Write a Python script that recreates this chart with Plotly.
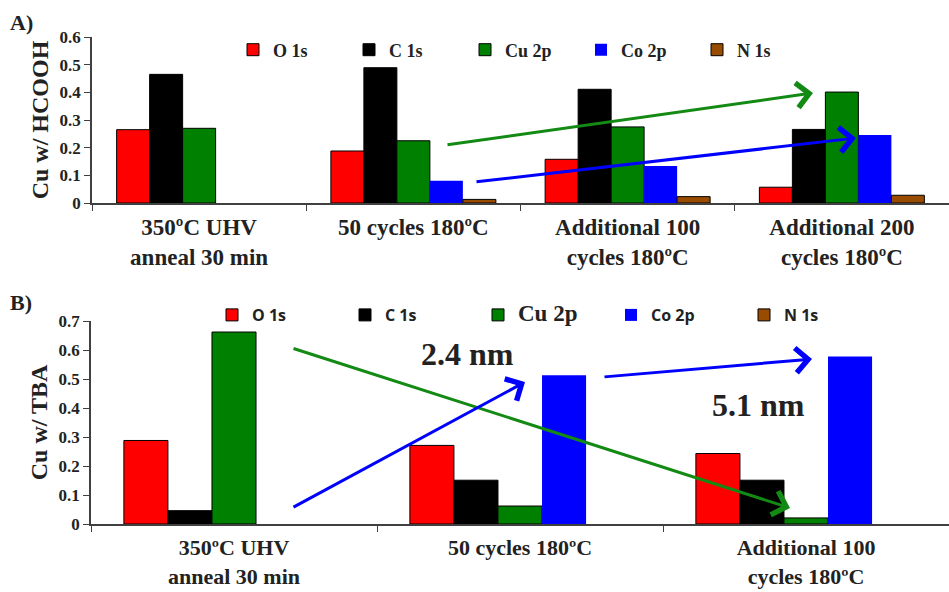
import plotly.graph_objects as go

# ---------------- data ----------------
series = ["O 1s", "C 1s", "Cu 2p", "Co 2p", "N 1s"]
colors = ["#FF0000", "#000000", "#008000", "#0000FF", "#994C00"]

cats_a = ["350ºC UHV<br>anneal 30 min", "50 cycles 180ºC",
          "Additional 100<br>cycles 180ºC", "Additional 200<br>cycles 180ºC"]
o1s_a = [0.265, 0.188, 0.158, 0.057]
c1s_a = [0.465, 0.489, 0.411, 0.266]
cu2p_a = [0.270, 0.225, 0.275, 0.401]
co2p_a = [None, 0.080, 0.134, 0.246]
n1s_a = [None, 0.013, 0.023, 0.028]

cats_b = ["350ºC UHV<br>anneal 30 min", "50 cycles 180ºC",
          "Additional 100<br>cycles 180ºC"]
o1s_b = [0.288, 0.271, 0.243]
c1s_b = [0.046, 0.151, 0.151]
cu2p_b = [0.662, 0.062, 0.021]
co2p_b = [None, 0.513, 0.578]
n1s_b = [None, None, None]

yticks_a = [0, 0.1, 0.2, 0.3, 0.4, 0.5, 0.6]
yticks_b = [0, 0.1, 0.2, 0.3, 0.4, 0.5, 0.6, 0.7]

SERIF = "Liberation Serif"
SANS = "Open Sans"
TXT = "#222222"

names_b = [
    f"<span style='font-family:{SANS}'><b>O 1s</b></span>",
    f"<span style='font-family:{SANS}'><b>C 1s</b></span>",
    f"<span style='font-family:{SERIF};font-size:23px'><b>Cu 2p</b></span>",
    f"<span style='font-family:{SANS}'><b>Co 2p</b></span>",
    f"<span style='font-family:{SANS}'><b>N 1s</b></span>",
]

fig = go.Figure()
vals_a = [o1s_a, c1s_a, cu2p_a, co2p_a, n1s_a]
vals_b = [o1s_b, c1s_b, cu2p_b, co2p_b, n1s_b]
for i, s in enumerate(series):
    lw = 0 if s == "Co 2p" else 1
    fig.add_trace(go.Bar(x=cats_a, y=vals_a[i], name=f"<b>{s}</b>",
                         marker=dict(color=colors[i], line=dict(color="#000000", width=lw)),
                         xaxis="x", yaxis="y", legend="legend", offsetgroup=str(i)))
for i, s in enumerate(series):
    lw = 0 if s == "Co 2p" else 1
    fig.add_trace(go.Bar(x=cats_b, y=vals_b[i], name=names_b[i],
                         marker=dict(color=colors[i], line=dict(color="#000000", width=lw)),
                         xaxis="x2", yaxis="y2", legend="legend2", offsetgroup=str(i)))

W, H = 949, 592
def px(x):
    return x / W
def py(y):
    return 1 - y / H

axis_common = dict(showline=True, linecolor="#404040", linewidth=1.5,
                   ticks="outside", tickcolor="#404040", ticklen=6,
                   showgrid=False, zeroline=False)

fig.update_layout(
    width=W, height=H,
    margin=dict(l=0, r=0, t=0, b=0, autoexpand=False),
    paper_bgcolor="white", plot_bgcolor="white",
    barmode="group", bargap=0.23, bargroupgap=0,
    font=dict(family=SERIF, color=TXT),
    xaxis=dict(domain=[px(92), 1.0], anchor="y", tickson="boundaries",
               tickvals=cats_a, ticktext=[f"<b>{c}</b>" for c in cats_a],
               tickfont=dict(family=SERIF, size=23, color=TXT),
               ticklabelstandoff=3, automargin=False,
               **axis_common),
    yaxis=dict(domain=[py(203), py(37)], anchor="x", range=[0, 0.6],
               tickvals=yticks_a, ticktext=[f"<b>{v:g}</b>" for v in yticks_a],
               tickfont=dict(family=SERIF, size=17, color=TXT),
               title=dict(text="<b>Cu w/ HCOOH</b>", font=dict(family=SERIF, size=24, color=TXT),
                          standoff=4),
               automargin=True,
               **axis_common),
    xaxis2=dict(domain=[px(91), 1.0], anchor="y2", tickson="boundaries",
                tickvals=cats_b, ticktext=[f"<b>{c}</b>" for c in cats_b],
                tickfont=dict(family=SERIF, size=22, color=TXT),
                ticklabelstandoff=3, automargin=False,
                **axis_common),
    yaxis2=dict(domain=[py(524), py(321)], anchor="x2", range=[0, 0.7],
                tickvals=yticks_b, ticktext=[f"<b>{v:g}</b>" for v in yticks_b],
                tickfont=dict(family=SERIF, size=17, color=TXT),
                title=dict(text="<b>Cu w/ TBA</b>", font=dict(family=SERIF, size=24, color=TXT),
                           standoff=4),
                automargin=True,
                **axis_common),
    legend=dict(orientation="h", x=px(233), y=py(50), xanchor="left", yanchor="middle",
                entrywidth=71, entrywidthmode="pixels", bgcolor="rgba(0,0,0,0)",
                font=dict(family=SERIF, size=18, color=TXT),
                itemclick=False, traceorder="normal"),
    legend2=dict(orientation="h", x=px(212), y=py(315), xanchor="left", yanchor="middle",
                 entrywidth=88, entrywidthmode="pixels", bgcolor="rgba(0,0,0,0)",
                 font=dict(family=SANS, size=16, color=TXT),
                 itemclick=False, traceorder="normal"),
    showlegend=True,
)

annotations = [
    dict(text="<b>A)</b>", x=px(8), y=py(23), xref="paper", yref="paper",
         xanchor="left", yanchor="middle", showarrow=False,
         font=dict(family=SERIF, size=22, color=TXT)),
    dict(text="<b>B)</b>", x=px(8), y=py(302), xref="paper", yref="paper",
         xanchor="left", yanchor="middle", showarrow=False,
         font=dict(family=SERIF, size=22, color=TXT)),
    dict(text="<b>2.4 nm</b>", x=px(467), y=py(354), xref="paper", yref="paper",
         xanchor="center", yanchor="middle",
         showarrow=False, font=dict(family=SERIF, size=32, color=TXT)),
    dict(text="<b>5.1 nm</b>", x=px(758), y=py(405), xref="paper", yref="paper",
         xanchor="center", yanchor="middle",
         showarrow=False, font=dict(family=SERIF, size=32, color=TXT)),
]

arrows = [
    # (x0, y0, x1, y1, color) in page pixels
    (446, 145, 813, 93, "#138A13"),
    (475, 182, 856, 138, "#0000FF"),
    (292, 348, 790, 508, "#138A13"),
    (292, 508, 525, 382, "#0000FF"),
    (603, 377, 812, 359, "#0000FF"),
]
for x0, y0, x1, y1, c in arrows:
    annotations.append(dict(
        x=px(x1), y=py(y1), ax=x0 - x1, ay=y0 - y1,
        xref="paper", yref="paper", axref="pixel", ayref="pixel",
        text="", showarrow=True, arrowhead=4, arrowsize=1.6, arrowwidth=3,
        arrowcolor=c, standoff=0))
fig.update_layout(annotations=annotations)

fig.write_html("out.html")
